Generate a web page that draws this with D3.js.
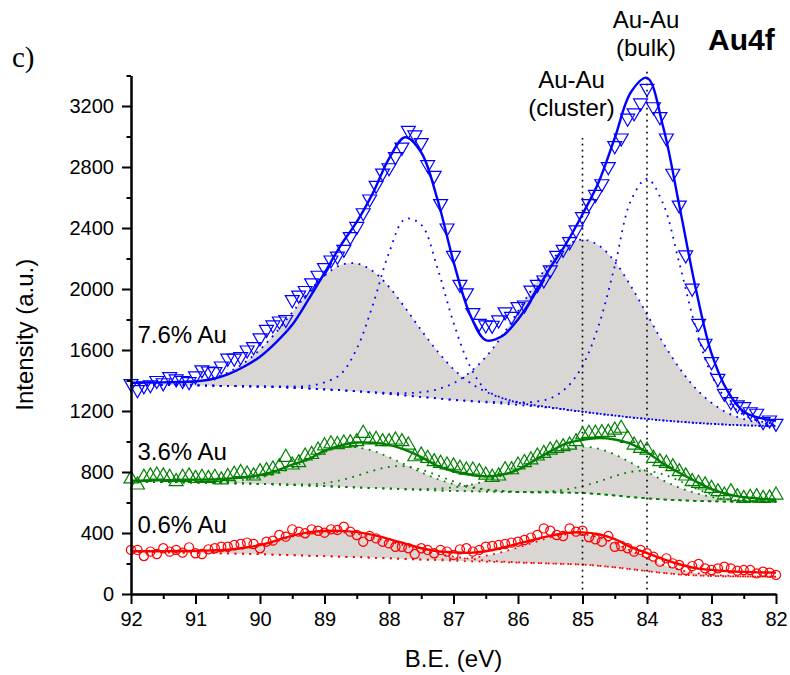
<!DOCTYPE html>
<html>
<head>
<meta charset="utf-8">
<script src="https://cdn.jsdelivr.net/npm/d3@7"></script>
<style>
body { margin: 0; background: #fff; }
svg text { font-family: "Liberation Sans", Arial, sans-serif; fill: #000; }
</style>
</head>
<body>
<svg width="790" height="675"></svg>
<script>
// binding energy grids (eV): fit curves every 0.25 eV, measured points every 0.1 eV
const fitBE = d3.range(0, 41).map(i => +(92 - i * 0.25).toFixed(2));
const dataBE = d3.range(0, 101).map(i => +(92 - i * 0.1).toFixed(1));

const xTicks = [92, 91, 90, 89, 88, 87, 86, 85, 84, 83, 82];
const yTicks = [0, 400, 800, 1200, 1600, 2000, 2400, 2800, 3200];

// ---- 7.6% Au (blue)
const blueData = [1380,1340,1365,1372,1400,1385,1425,1410,1400,1392,1430,1470,1462,1458,1495,1546,1546,1556,1600,1622,
  1680,1735,1764,1790,1800,1930,1960,1990,2040,2090,2140,2190,2215,2260,2343,2410,2500,2590,2680,2760,
  2795,2868,2930,3040,3010,2960,2815,2745,2560,2400,2220,2030,1975,1845,1775,1764,1762,1797,1850,1820,
  1884,1895,1993,2030,2059,2125,2220,2260,2310,2387,2474,2560,2620,2690,2802,2940,2990,3120,3155,3220,
  3316,3195,3130,2990,2759,2550,2223,2005,1775,1644,1523,1414,1316,1261,1240,1228,1195,1185,1130,1141,1119];
const blueFit = [1385,1386,1388,1390,1395,1408,1440,1490,1556,1650,1765,1930,2105,2285,2440,2629,2855,2995,2895,2590,
  2180,1840,1665,1690,1800,1960,2140,2300,2490,2700,2990,3290,3385,3064,2550,2015,1578,1330,1195,1155,1135];
const blueBg = [1372,1371,1370,1369,1368,1366,1364,1362,1360,1357,1353,1348,1342,1336,1329,1321,1312,1302,1292,1282,
  1272,1264,1256,1248,1240,1230,1220,1208,1195,1182,1170,1158,1148,1138,1130,1122,1116,1110,1106,1103,1100];
const blueCluster52 = [1372,1373,1375,1380,1392,1414,1453,1514,1603,1716,1846,1977,2087,2157,2167,2117,2014,1877,1730,1592,
  1475,1387,1326,1285,1258,1238,1223,1208,1195,1182,1170,1158,1148,1138,1130,1122,1116,1110,1106,1103,1100];
const blueCluster72 = [1372,1371,1370,1369,1368,1366,1364,1362,1360,1357,1353,1348,1342,1336,1329,1324,1319,1317,1323,1342,
  1382,1452,1554,1691,1854,2022,2176,2283,2324,2287,2180,2019,1834,1647,1483,1350,1254,1187,1147,1123,1109];
const blueBulk52 = [1372,1371,1370,1369,1368,1366,1364,1362,1361,1362,1361,1365,1388,1441,1608,1896,2237,2459,2421,2139,
  1780,1498,1340,1287,1255,1238,1225,1210,1196,1182,1170,1158,1148,1138,1130,1122,1116,1110,1106,1103,1100];
const blueBulk72 = [1372,1371,1370,1369,1368,1366,1364,1362,1360,1357,1353,1348,1342,1336,1329,1321,1312,1302,1292,1283,
  1274,1267,1261,1258,1257,1260,1283,1352,1496,1760,2150,2579,2723,2559,2171,1754,1437,1264,1174,1133,1115];

// ---- 3.6% Au (green)
const greenData = [755,715,765,774,780,774,765,737,765,774,758,765,758,765,748,770,785,796,787,774,
  802,809,820,835,896,846,861,905,915,944,972,985,980,990,992,999,1054,1010,1014,999,
  999,1010,999,977,900,911,890,868,857,846,840,824,813,813,802,780,765,774,815,815,
  846,862,880,905,922,944,955,966,977,999,1043,1054,1054,1058,1060,1075,1087,1021,977,955,
  944,890,868,857,835,802,774,737,726,715,693,671,649,671,638,627,634,638,627,630,649];
const greenFit = [743,744,746,748,750,751,756,765,780,808,848,885,938,975,993,992,978,945,898,840,
  805,782,770,782,815,875,935,988,1010,1022,1013,985,930,855,795,740,688,655,635,625,616];
const greenBg = [736,735,734,733,731,729,727,725,722,719,715,711,707,703,699,695,691,687,683,679,
  676,674,672,670,668,667,666,665,662,655,646,636,627,620,615,611,608,606,605,604,604];
const greenCluster52 = [736,735,734,734,734,731,736,748,765,790,830,880,930,964,962,939,897,848,798,754,
  721,699,684,676,669,667,666,665,662,655,646,636,627,620,615,611,608,606,605,604,604];
const greenCluster72 = [736,735,734,733,731,729,727,725,722,719,715,711,707,703,699,695,692,689,688,691,
  699,715,741,777,822,873,919,954,966,953,915,861,802,745,698,662,637,621,613,608,606];
const greenBulk52 = [736,735,734,733,731,729,727,725,722,719,718,719,727,746,775,808,833,837,815,778,
  738,706,686,675,669,667,666,665,662,655,646,636,627,620,615,611,608,606,605,604,604];
const greenBulk72 = [736,735,734,733,731,729,727,725,722,719,715,711,707,703,699,695,691,687,683,679,
  676,674,672,670,668,670,674,686,707,737,773,801,807,785,742,693,653,627,613,607,604];

// ---- 0.6% Au (red)
const redData = [289,289,249,278,262,300,278,289,271,306,267,262,293,300,310,310,321,328,337,328,
  300,343,350,387,376,424,409,398,424,415,402,424,420,441,409,387,343,380,365,343,
  332,310,310,300,262,300,289,267,289,278,256,293,300,278,289,310,315,321,328,337,
  343,354,370,387,430,415,387,380,430,409,415,372,359,343,380,310,315,300,278,289,
  267,245,212,234,201,190,157,183,197,168,157,168,179,168,153,157,157,135,146,140,125];
const redFit = [280,280,281,282,283,286,290,303,321,350,383,404,413,414,406,388,360,330,300,280,
  273,270,280,303,330,356,381,400,404,392,360,308,268,228,195,170,158,150,145,142,140];
const redBg = [278,276,274,272,270,268,266,264,261,258,255,251,248,245,242,238,234,230,226,222,
  218,215,212,209,206,203,200,197,193,185,175,163,150,138,128,122,118,116,115,114,113];
const redCluster52 = [278,276,275,274,276,281,287,298,315,345,377,394,404,405,394,373,346,317,289,264,
  245,231,220,213,208,204,200,197,193,185,175,163,150,138,128,122,118,116,115,114,113];
const redCluster72 = [278,276,274,272,270,268,266,264,261,258,255,251,248,245,242,238,234,230,226,227,
  228,236,251,274,305,339,371,391,393,371,333,284,235,191,159,138,126,120,116,114,113];

// peak position markers (eV) and how high their dotted guides reach
const guideBE = [85, 84];
const guideTop = [2990, 3425];

const svg = d3.select('svg');
const width = +svg.attr('width');
const height = +svg.attr('height');
const margin = { top: 75.5, right: 14, bottom: 81, left: 131 };
const innerWidth = width - margin.left - margin.right;
const innerHeight = height - margin.top - margin.bottom;

const xScale = d3.scaleLinear().domain([92, 82]).range([0, innerWidth]);
const yScale = d3.scaleLinear().domain([0, 3400]).range([innerHeight, 0]);

const g = svg.append('g').attr('transform', `translate(${margin.left},${margin.top})`);

const series = [
  { name: '7.6% Au', color: '#0000ff', marker: 'down', data: blueData, fit: blueFit, bg: blueBg,
    cluster: [blueCluster52, blueCluster72], bulk: [blueBulk52, blueBulk72], labelAt: [91.9, 1646] },
  { name: '3.6% Au', color: '#008000', marker: 'up', data: greenData, fit: greenFit, bg: greenBg,
    cluster: [greenCluster52, greenCluster72], bulk: [greenBulk52, greenBulk72], labelAt: [91.9, 879] },
  { name: '0.6% Au', color: '#ff0000', marker: 'circle', data: redData, fit: redFit, bg: redBg,
    cluster: [redCluster52, redCluster72], bulk: [], labelAt: [91.9, 400] }
];

const fitLine = d3.line()
  .x((d, i) => xScale(fitBE[i]))
  .y(d => yScale(d))
  .curve(d3.curveCatmullRom);

// shaded cluster components, filled down to their background
series.forEach(s => {
  s.cluster.forEach(c => {
    const area = d3.area()
      .x((d, i) => xScale(fitBE[i]))
      .y0((d, i) => yScale(s.bg[i]))
      .y1(d => yScale(d))
      .curve(d3.curveCatmullRom);
    g.append('path').attr('d', area(c)).attr('fill', '#d9d6d4');
  });
});

// dotted background and component curves
series.forEach(s => {
  [s.bg, ...s.cluster, ...s.bulk].forEach(c => {
    g.append('path').attr('d', fitLine(c))
      .attr('fill', 'none')
      .attr('stroke', s.color)
      .attr('stroke-width', 1.8)
      .attr('stroke-dasharray', '1.8,5.6');
  });
});

// vertical guides at cluster / bulk positions
guideBE.forEach((be, i) => {
  g.append('line')
    .attr('x1', xScale(be)).attr('x2', xScale(be))
    .attr('y1', yScale(30)).attr('y2', yScale(guideTop[i]))
    .attr('stroke', '#000')
    .attr('stroke-width', 1.6)
    .attr('stroke-dasharray', '1.6,4.4');
});

// measured points
series.forEach(s => {
  const type = s.marker === 'circle' ? d3.symbolCircle : d3.symbolTriangle;
  const size = s.marker === 'circle' ? 66 : 84;
  const sym = d3.symbol().type(type).size(size);
  g.append('g').selectAll('path').data(s.data)
    .enter().append('path')
      .attr('d', sym)
      .attr('transform', (d, i) => `translate(${xScale(dataBE[i])},${yScale(d)})` + (s.marker === 'down' ? ' rotate(180)' : ''))
      .attr('fill', 'none')
      .attr('stroke', s.color)
      .attr('stroke-width', 1.2);
});

// fitted envelopes
series.forEach(s => {
  g.append('path').attr('d', fitLine(s.fit))
    .attr('fill', 'none')
    .attr('stroke', s.color)
    .attr('stroke-width', 2.4);
});

// series labels
series.forEach(s => {
  g.append('text')
    .attr('x', xScale(s.labelAt[0]))
    .attr('y', yScale(s.labelAt[1]))
    .attr('font-size', 24)
    .text(s.name);
});

// axes
const axisFont = sel => sel
  .attr('font-size', 20)
  .attr('font-family', '"Liberation Sans", Arial, sans-serif');

g.append('g')
  .call(d3.axisLeft(yScale).tickValues(yTicks).tickFormat(d3.format('d'))
    .tickSize(9).tickSizeOuter(0).tickPadding(8))
  .call(axisFont);
g.append('g')
  .call(d3.axisLeft(yScale).tickValues(d3.range(200, 3401, 400)).tickSize(4.5).tickSizeOuter(0))
  .call(sel => sel.selectAll('text').remove());
g.append('g')
  .attr('transform', `translate(0,${innerHeight})`)
  .call(d3.axisBottom(xScale).tickValues(xTicks).tickSize(10).tickSizeOuter(0).tickPadding(8))
  .call(axisFont);
g.append('g')
  .attr('transform', `translate(0,${innerHeight})`)
  .call(d3.axisBottom(xScale).tickValues(d3.range(91.5, 82, -1)).tickSize(5).tickSizeOuter(0))
  .call(sel => sel.selectAll('text').remove());

g.selectAll('.domain, .tick line').attr('stroke', '#000').attr('stroke-width', 2);

// axis titles
svg.append('text')
  .attr('x', margin.left + innerWidth / 2)
  .attr('y', 667)
  .attr('text-anchor', 'middle')
  .attr('font-size', 24)
  .text('B.E. (eV)');
svg.append('text')
  .attr('transform', `translate(33,${margin.top + innerHeight / 2}) rotate(-90)`)
  .attr('text-anchor', 'middle')
  .attr('font-size', 24)
  .text('Intensity (a.u.)');

// annotations
const note = (x, y, txt, opts = {}) => svg.append('text')
  .attr('x', x).attr('y', y)
  .attr('text-anchor', opts.anchor || 'middle')
  .attr('font-size', opts.size || 24)
  .attr('font-weight', opts.weight || 'normal')
  .style('font-family', opts.family || null)
  .text(txt);

note(margin.left + xScale(84) - 1, 28, 'Au-Au');
note(margin.left + xScale(84) - 1, 56, '(bulk)');
note(margin.left + xScale(85) - 11, 88, 'Au-Au');
note(margin.left + xScale(85) - 11, 116, '(cluster)');
note(708, 50, 'Au4f', { anchor: 'start', size: 30, weight: 'bold' });
note(12, 67, 'c)', { anchor: 'start', size: 29, family: '"Liberation Serif", "Times New Roman", serif' });
</script>
</body>
</html>
